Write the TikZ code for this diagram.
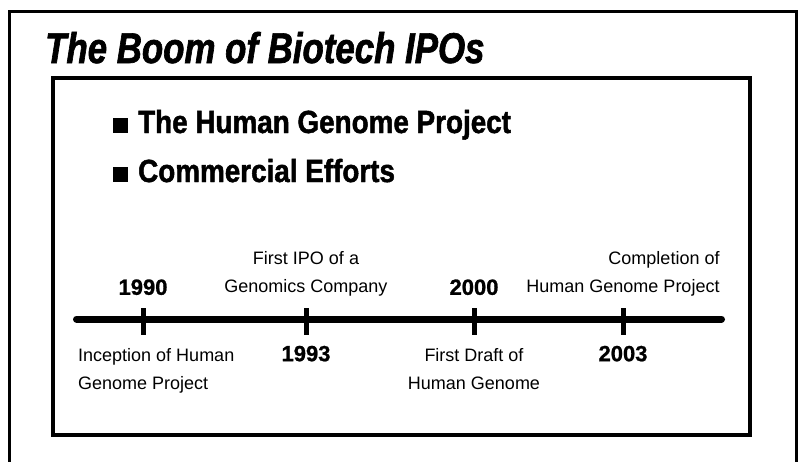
\documentclass[tikz,border=0pt]{standalone}
\usepackage{fontspec}
\setmainfont{Liberation Sans}
\newfontfamily\titlefont{Liberation Sans Bold Italic}[FakeStretch=0.81, FakeBold=1.5]
\newfontfamily\pointfont{Liberation Sans Bold}[FakeStretch=0.87, FakeBold=1.5]
\newfontfamily\yearfont{Liberation Sans Bold}[FakeBold=1]
\usetikzlibrary{positioning}

\begin{document}
\begin{tikzpicture}[
        x=1pt, y=-1pt,
        node distance=12pt,
        frame/.style={draw, line width=3pt},
        panel/.style={draw, line width=4pt},
        time_axis/.style={line width=7pt, line cap=round},
        tick_mark/.style={fill, inner sep=0pt, minimum width=5pt, minimum height=27pt},
        year_label/.style={font=\yearfont\fontsize{22}{26}\selectfont, inner sep=0pt},
        event_label/.style={font=\fontsize{18}{28}\selectfont, inner sep=0pt, align=center},
        point_text/.style={font=\pointfont\fontsize{32}{38}\selectfont, inner sep=0pt}
    ]
    \useasboundingbox (0,0) rectangle (798,461);

    % Frames
    \draw[frame] (9.8,470) -- (9.8,11) -- (796.3,11) -- (796.3,470);
    \draw[panel] (52.5,78) rectangle (750,434.7);

    % Title and points
    \node[font=\titlefont\fontsize{43}{50}\selectfont, inner sep=0pt, anchor=base west] (title) at (45,63) {The Boom of Biotech IPOs};
    \node[point_text, anchor=base west] (p1) at (113,133) {\rule{15pt}{15pt}\hspace{10pt}The Human Genome Project};
    \node[point_text, below=49pt of p1.base west, anchor=base west] (p2) {\rule{15pt}{15pt}\hspace{10pt}Commercial Efforts};

    % Time line
    \coordinate (axis_start) at (76.5,319);
    \coordinate (axis_end) at (721.5,319);
    \draw[time_axis] (axis_start) -- (axis_end);
    \node[tick_mark] (t1990) at (143,321) {};
    \node[tick_mark] (t1993) at (306,321) {};
    \node[tick_mark] (t2000) at (474,321) {};
    \node[tick_mark] (t2003) at (623,321) {};

    % Years
    \node[year_label, above=12.5pt of t1990.north, anchor=base] (y1990) {1990};
    \node[year_label, below=26.5pt of t1993.south, anchor=base] (y1993) {1993};
    \node[year_label, above=12.5pt of t2000.north, anchor=base] (y2000) {2000};
    \node[year_label, below=26.5pt of t2003.south, anchor=base] (y2003) {2003};

    % Events
    \node[event_label, align=left, anchor=north west] (e1990) at (78,348) {Inception of Human\\Genome Project};
    \node[event_label, above=10.7pt of t1993.north] (e1993) {First IPO of a\\Genomics Company};
    \node[event_label, below=13.4pt of t2000.south] (e2000) {First Draft of\\Human Genome};
    \node[event_label, align=right, above=10.7pt of t2003.north] (e2003) {Completion of\\Human Genome Project};
\end{tikzpicture}
\end{document}
